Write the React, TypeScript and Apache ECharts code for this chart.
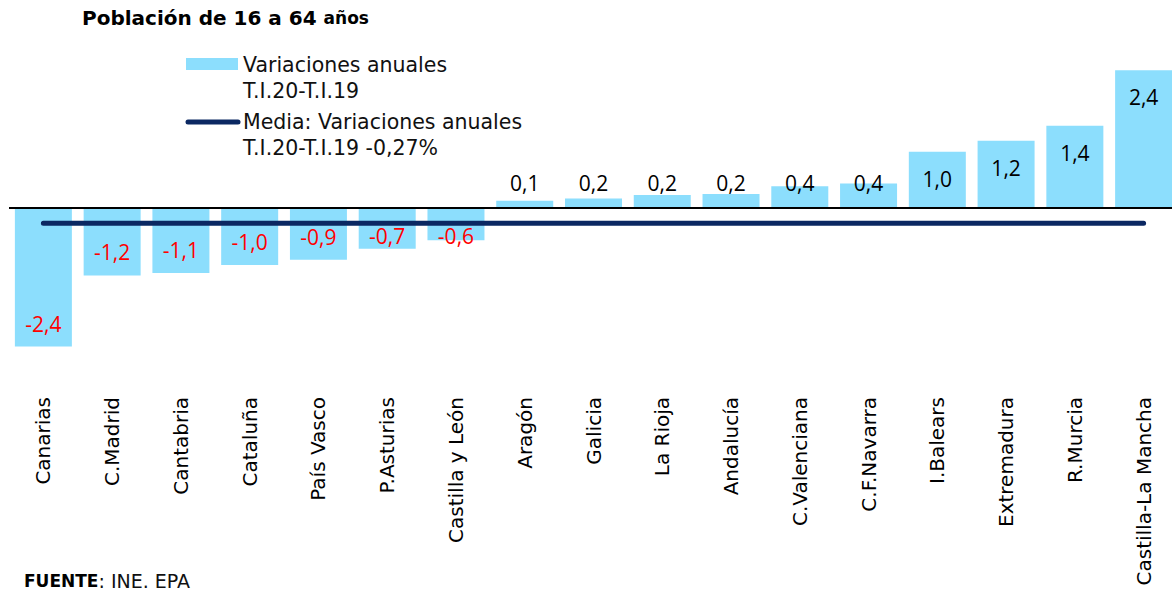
import React, { useEffect, useRef } from "react";
import * as echarts from "echarts";

const categories = [
  "Canarias", "C.Madrid", "Cantabria", "Cataluña", "País Vasco", "P.Asturias",
  "Castilla y León", "Aragón", "Galicia", "La Rioja", "Andalucía", "C.Valenciana",
  "C.F.Navarra", "I.Balears", "Extremadura", "R.Murcia", "Castilla-La Mancha",
];
const variaciones = [
  -2.4, -1.17, -1.13, -0.99, -0.9, -0.71, -0.56, 0.12, 0.16, 0.22, 0.24, 0.37,
  0.42, 0.97, 1.16, 1.42, 2.38,
];
const media = -0.27;
const yMin = -3.1;
const yMax = 2.4;

const titleMain = "Población de 16 a 64 ";
const titleSmall = "años";
const legendBar = ["Variaciones anuales", "T.I.20-T.I.19"];
const legendLine = ["Media: Variaciones anuales", "T.I.20-T.I.19 -0,27%"];
const sourceBold = "FUENTE";
const sourceRest = ": INE. EPA";

const BAR_COLOR = "#8CDEFD";
const NAVY = "#0B2862";
const RED = "#FF0000";
const GOTHIC = "DejaVu Sans";
const LABEL_FONT = "Open Sans";
const INSIDE_MIN = 0.9;

const fmt = (v: number) => v.toFixed(1).replace(".", ",");

export default function App() {
  const ref = useRef<HTMLDivElement>(null);

  useEffect(() => {
    if (!ref.current) return;
    const chart = echarts.init(ref.current, null, { renderer: "svg" });

    const barData = variaciones.map((v) => {
      const neg = v < 0;
      const big = Math.abs(v) >= INSIDE_MIN;
      let position: string;
      let distance: number;
      if (neg) {
        position = big ? "insideBottom" : "insideTop";
        distance = big ? 12 : 17;
      } else {
        position = big ? "insideTop" : "insideBottom";
        distance = big ? 16 : 14;
      }
      return {
        value: v,
        label: { position, distance, color: neg ? RED : "#000" },
      };
    });

    const legendText = (lines: string[], x: number, y0: number) =>
      lines.map((t, i) => ({
        type: "text",
        x,
        y: y0 + i * 25.5,
        style: {
          text: t,
          fill: "#111",
          font: `20.5px "${GOTHIC}"`,
          verticalAlign: "middle",
          align: "left",
        },
      }));

    chart.setOption({
      animation: false,
      backgroundColor: "#fff",
      grid: {
        left: 9,
        right: -6,
        top: 69,
        height: 318,
        containLabel: false,
        outerBoundsMode: "none",
      },
      xAxis: {
        type: "category",
        data: categories,
        axisLine: { show: false, onZero: false },
        axisTick: { show: false },
        splitLine: { show: false },
        axisLabel: {
          interval: 0,
          rotate: 90,
          margin: 10,
          color: "#000",
          fontFamily: GOTHIC,
          fontSize: 20,
        },
      },
      yAxis: {
        type: "value",
        min: yMin,
        max: yMax,
        show: false,
        splitLine: { show: false },
      },
      series: [
        {
          name: "Variaciones anuales",
          type: "bar",
          data: barData,
          barWidth: 57,
          itemStyle: { color: BAR_COLOR },
          label: {
            show: true,
            fontFamily: LABEL_FONT,
            fontSize: 21,
            lineHeight: 22,
            formatter: (p: any) => fmt(p.value),
          },
          markLine: {
            silent: true,
            symbol: ["none", "none"],
            label: { show: false },
            lineStyle: { color: "#000", width: 2, type: "solid" },
            data: [{ yAxis: 0 }],
          },
        },
        {
          name: "Media",
          type: "line",
          data: categories.map(() => media),
          symbol: "none",
          z: 3,
          lineStyle: { color: NAVY, width: 5, cap: "round" },
        },
      ],
      graphic: [
        {
          type: "text",
          x: 82,
          y: 18,
          style: {
            text: `{b|${titleMain}}{s|${titleSmall}}`,
            verticalAlign: "middle",
            rich: {
              b: { fontFamily: GOTHIC, fontWeight: "bold", fontSize: 20, fill: "#000" },
              s: { fontFamily: GOTHIC, fontWeight: "bold", fontSize: 17, fill: "#000" },
            },
          },
        },
        {
          type: "rect",
          shape: { x: 186, y: 58, width: 52, height: 12 },
          style: { fill: BAR_COLOR },
        },
        ...legendText(legendBar, 243, 65),
        {
          type: "line",
          shape: { x1: 188, y1: 122, x2: 238, y2: 122 },
          style: { stroke: NAVY, lineWidth: 5, lineCap: "round" },
        },
        ...legendText(legendLine, 243, 122),
        {
          type: "text",
          x: 24,
          y: 581,
          style: {
            text: `{b|${sourceBold}}{r|${sourceRest}}`,
            verticalAlign: "middle",
            rich: {
              b: { fontFamily: GOTHIC, fontWeight: "bold", fontSize: 17, fill: "#000" },
              r: { fontFamily: GOTHIC, fontSize: 19, fill: "#111" },
            },
          },
        },
      ],
    });

    return () => chart.dispose();
  }, []);

  return (
    <div
      ref={ref}
      style={{ position: "fixed", left: 0, top: 0, width: 1172, height: 596 }}
    />
  );
}
